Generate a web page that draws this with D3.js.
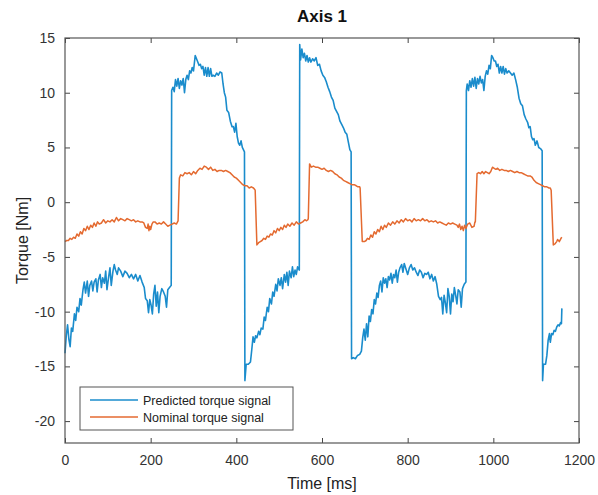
<html>
<head>
    <meta charset="utf-8">
    <title>Axis 1</title>
    <style>
        body { margin: 0; background: #ffffff; }
        text { font-family: "Liberation Sans", Arial, sans-serif; }
    </style>
</head>
<body>
    <script src="https://cdn.jsdelivr.net/npm/d3@7/dist/d3.min.js"></script>
    <script type="text/javascript">
        // predicted torque (blue) : time [ms], torque [Nm]
        var predT = [0, 3, 6, 9, 12, 15, 18, 22, 25, 28, 32, 35, 38, 42, 45, 48, 52, 55, 58, 62, 65, 68, 72, 75, 78, 82, 85, 88, 92, 95, 98, 102, 105, 108, 112, 115, 118, 122, 125, 130, 135, 140, 145, 150, 155, 160, 165, 170, 175, 180, 185, 188, 192, 195, 198, 201, 204, 207, 210, 213, 216, 219, 222, 226, 230, 234, 237, 240, 244, 248,
            249, 252, 255, 258, 261, 264, 267, 270, 273, 276, 279, 282, 285, 288, 291, 294, 297, 300, 304, 307, 310, 313, 316, 319, 322, 325, 328, 331, 334, 337, 340, 343, 346, 350, 354, 358, 362, 366, 369, 372, 375, 378, 382, 386, 390, 393, 396, 399, 402, 405, 408, 411, 414, 419,
            420, 423, 428, 433, 436, 439, 442, 445, 448, 452, 455, 458, 462, 465, 468, 472, 475, 478, 482, 485, 488, 492, 495, 498, 502, 505, 508, 512, 515, 518, 521, 524, 528, 531, 534, 537, 540, 543, 547,
            548, 550, 553, 556, 559, 562, 565, 568, 571, 574, 578, 582, 586, 590, 594, 598, 602, 606, 610, 614, 618, 622, 626, 630, 634, 638, 642, 646, 650, 654, 658, 662, 665, 668,
            669, 673, 678, 683, 688, 692, 695, 698, 701, 704, 707, 710, 713, 716, 719, 722, 725, 728, 731, 734, 737, 740, 743, 746, 749, 752, 755, 758, 761, 764, 767, 770, 773, 776, 779, 782, 786, 789, 792, 796, 800, 804, 808, 812, 816, 820, 824, 828, 832, 836, 840, 844, 848, 852, 856, 860, 864, 868, 872, 876, 879, 882, 885, 888, 891, 894, 897, 900, 903, 906, 909, 912, 915, 918, 922, 925, 928, 932, 936,
            937, 939, 942, 945, 948, 951, 954, 957, 960, 963, 966, 969, 972, 975, 978, 981, 984, 987, 990, 993, 996, 999, 1002, 1005, 1008, 1011, 1014, 1017, 1020, 1023, 1026, 1029, 1032, 1036, 1040, 1044, 1048, 1052, 1056, 1060, 1064, 1068, 1072, 1076, 1080, 1083, 1086, 1089, 1092, 1095, 1098, 1102, 1106, 1110, 1114,
            1115, 1117, 1122, 1125, 1128, 1131, 1133, 1136, 1139, 1142, 1145, 1148, 1151, 1154, 1157, 1159, 1160];
        var predV = [-13.8, -12.2, -11.2, -12.5, -13.2, -11.5, -11.8, -10.2, -10.8, -9.6, -10.0, -8.8, -9.4, -8.0, -7.3, -8.3, -7.2, -8.6, -7.6, -7.2, -8.1, -7.3, -7.0, -8.2, -7.1, -6.6, -7.8, -6.9, -7.4, -6.3, -8.0, -6.8, -6.0, -7.6, -6.3, -5.7, -6.2, -6.6, -6.0, -6.3, -6.8, -6.3, -6.5, -6.9, -6.6, -7.0, -6.6, -7.2, -6.7, -7.3, -7.8, -8.8, -9.0, -10.1, -8.9, -9.4, -10.2, -8.4, -7.6, -9.5, -8.2, -10.1, -8.6, -7.9, -8.2, -8.6, -9.6, -8.0, -7.8, -7.6,
            10.2, 10.5, 10.1, 11.2, 10.6, 11.3, 10.4, 11.1, 10.7, 11.3, 10.0, 11.2, 11.6, 11.2, 12.0, 11.8, 12.3, 12.0, 13.4, 13.1, 12.8, 12.5, 12.6, 12.2, 12.4, 11.6, 12.3, 11.5, 12.3, 11.5, 12.2, 11.5, 11.6, 11.5, 11.8, 11.6, 11.9, 11.8, 10.8, 10.0, 9.6, 8.4, 8.2, 7.4, 6.9, 6.9, 6.4, 7.2, 6.0, 5.4, 5.2, 5.6, 5.0, 4.6,
            -16.3, -14.8, -14.8, -14.6, -13.5, -12.3, -12.8, -12.2, -12.4, -11.8, -12.1, -11.5, -11.6, -10.5, -10.8, -9.6, -10.0, -8.8, -9.3, -8.2, -8.6, -7.5, -8.1, -7.0, -7.6, -6.9, -7.9, -6.6, -7.3, -6.4, -7.6, -6.3, -6.9, -5.9, -6.8, -6.2, -6.6, -5.9, -6.2,
            14.4, 13.0, 14.0, 13.2, 13.6, 12.9, 13.4, 12.8, 13.2, 12.8, 13.1, 12.9, 13.2, 12.5, 12.6, 12.0, 11.6, 11.4, 11.0, 10.5, 10.1, 9.6, 9.3, 8.6, 8.3, 8.0, 7.4, 7.1, 6.8, 6.4, 6.2, 5.4, 4.8, 4.6,
            -14.3, -14.2, -14.3, -14.0, -13.9, -13.6, -12.4, -11.6, -12.6, -11.1, -12.3, -10.4, -10.9, -9.8, -10.2, -8.9, -9.3, -8.3, -8.7, -7.6, -7.2, -8.2, -6.9, -7.4, -7.0, -7.8, -6.8, -7.1, -6.5, -7.4, -6.6, -6.9, -6.2, -7.3, -6.4, -6.0, -5.7, -6.4, -5.6, -6.1, -6.6, -6.0, -5.7, -6.2, -6.0, -6.4, -6.7, -6.2, -6.4, -6.9, -6.5, -6.6, -6.4, -7.0, -6.6, -7.2, -6.8, -7.5, -8.6, -8.9, -8.7, -10.2, -8.5, -9.2, -10.1, -7.9, -8.6, -10.2, -8.4, -9.1, -7.8, -8.5, -9.3, -8.0, -8.2, -9.6, -7.9, -7.5, -7.3,
            10.2, 10.8, 10.2, 11.1, 10.5, 11.3, 10.6, 11.4, 10.4, 11.3, 10.8, 11.5, 10.9, 11.2, 10.2, 11.5, 12.0, 11.7, 12.5, 12.2, 13.4, 13.2, 12.9, 12.9, 12.4, 12.6, 11.8, 12.4, 11.8, 12.4, 11.7, 12.2, 11.8, 12.0, 11.8, 11.6, 11.8, 11.2, 10.5, 9.5, 9.0, 8.8, 8.0, 7.6, 7.3, 6.8, 6.9, 6.0, 5.7, 5.8, 5.2, 5.6, 5.0, 4.9, 4.7,
            -16.3, -14.8, -14.8, -14.0, -12.6, -12.0, -12.8, -12.0, -12.1, -11.7, -11.8, -11.4, -11.2, -11.3, -11.0, -11.1, -9.7];

        // nominal torque (orange)
        var nomT = [0, 4, 8, 12, 16, 20, 24, 28, 32, 36, 40, 44, 48, 52, 56, 60, 64, 68, 72, 76, 80, 85, 90, 95, 100, 105, 110, 115, 120, 125, 130, 135, 140, 145, 150, 155, 160, 165, 170, 175, 180, 184, 188, 192, 194, 196, 198, 200, 203, 206, 210, 215, 220, 225, 230, 235, 240, 245, 250, 255, 260, 264,
            267, 270, 275, 280, 285, 290, 295, 300, 305, 310, 315, 320, 325, 330, 335, 340, 345, 350, 355, 360, 365, 370, 375, 380, 385, 390, 395, 400, 405, 410, 415, 420, 425, 430, 435, 440, 442,
            444, 448, 452, 456, 460, 464, 468, 472, 476, 480, 484, 488, 492, 496, 500, 504, 508, 512, 516, 520, 525, 530, 535, 540, 545, 550, 555, 560, 564, 567,
            568, 571, 575, 580, 585, 590, 595, 600, 605, 610, 615, 620, 625, 630, 635, 640, 645, 650, 655, 660, 665, 670, 675, 680, 684, 688,
            689, 694, 699, 703, 706, 710, 714, 718, 722, 726, 730, 734, 738, 742, 746, 750, 755, 760, 765, 770, 775, 780, 785, 790, 795, 800, 805, 810, 815, 820, 825, 830, 835, 840, 845, 850, 855, 860, 865, 870, 875, 880, 885, 890, 895, 900, 905, 910, 915, 918, 921, 924, 927, 930, 933, 936, 940, 945, 950, 955, 957,
            958, 962, 966, 970, 974, 978, 982, 986, 990, 994, 998, 1002, 1006, 1010, 1015, 1020, 1025, 1030, 1035, 1040, 1045, 1050, 1055, 1060, 1065, 1070, 1075, 1080, 1086, 1090, 1095, 1100, 1105, 1110, 1115, 1120, 1125, 1130, 1133,
            1135, 1140, 1144, 1148, 1150, 1154, 1158, 1160];
        var nomV = [-3.6, -3.5, -3.5, -3.3, -3.4, -3.2, -3.3, -2.9, -3.1, -2.7, -2.9, -2.4, -2.6, -2.2, -2.5, -2.1, -2.3, -1.9, -2.2, -1.8, -2.0, -1.9, -1.6, -1.9, -1.7, -1.8, -1.6, -1.8, -1.4, -1.7, -1.5, -1.6, -1.7, -1.5, -1.6, -1.7, -1.6, -1.8, -1.7, -1.8, -1.8, -1.9, -2.3, -2.4, -2.0, -2.6, -2.2, -2.5, -2.0, -1.8, -1.8, -2.0, -1.9, -2.0, -1.8, -2.0, -2.2, -2.1, -2.0, -1.9, -2.0, -1.7,
            2.2, 2.5, 2.4, 2.7, 2.6, 2.7, 2.5, 2.8, 2.6, 2.9, 3.1, 3.0, 3.3, 3.2, 3.0, 3.2, 2.9, 3.0, 2.8, 2.9, 2.9, 2.8, 2.9, 2.8, 2.7, 2.5, 2.3, 2.2, 2.0, 1.8, 1.6, 1.5, 1.5, 1.3, 1.4, 1.3, 1.2, 1.1,
            -3.9, -3.7, -3.6, -3.5, -3.3, -3.4, -3.1, -3.2, -2.9, -3.0, -2.6, -2.8, -2.4, -2.6, -2.3, -2.5, -2.1, -2.3, -2.0, -2.2, -1.9, -2.1, -1.8, -2.0, -1.9, -1.8, -1.6, -1.7, -1.6, -1.5,
            3.5, 3.2, 3.3, 3.2, 3.2, 3.1, 3.0, 3.1, 2.9, 2.8, 2.9, 2.8, 2.6, 2.5, 2.3, 2.2, 2.0, 1.9, 1.8, 1.7, 1.6, 1.6, 1.5, 1.4, 1.4, 1.3,
            -3.6, -3.6, -3.5, -3.3, -3.4, -3.0, -3.2, -2.7, -2.9, -2.5, -2.7, -2.2, -2.5, -2.1, -2.3, -1.9, -2.1, -1.8, -2.0, -1.7, -1.9, -1.6, -1.8, -1.5, -1.7, -1.6, -1.8, -1.5, -1.7, -1.6, -1.7, -1.5, -1.7, -1.6, -1.8, -1.7, -1.8, -1.7, -1.9, -1.8, -1.9, -2.0, -2.1, -1.9, -2.0, -1.9, -2.0, -2.1, -2.3, -2.0, -2.5, -2.2, -2.6, -2.1, -2.4, -2.0, -1.9, -2.3, -2.2, -1.8, -1.8,
            2.6, 2.7, 2.6, 2.8, 2.6, 2.8, 2.7, 2.6, 2.8, 3.2, 3.1, 3.0, 3.1, 2.9, 3.0, 2.9, 2.9, 2.8, 2.9, 2.8, 2.7, 2.8, 2.7, 2.7, 2.6, 2.5, 2.4, 2.4, 2.3, 2.0, 1.8, 1.7, 1.6, 1.5, 1.4, 1.4, 1.3, 1.3, 1.1,
            -3.9, -3.8, -3.6, -3.4, -3.6, -3.3, -3.2, -3.0];

        var xTicks = [0, 200, 400, 600, 800, 1000, 1200];
        var yTicks = [-20, -15, -10, -5, 0, 5, 10, 15];
        var seriesNames = ["Predicted torque signal", "Nominal torque signal"];
        var seriesColors = ["#1a8ccc", "#e46a30"];

        var width = 598, height = 495;
        var margin = { top: 38, right: 19, bottom: 52, left: 65 };
        var w = width - margin.left - margin.right;
        var h = height - margin.top - margin.bottom;

        var svg = d3.select("body")
            .append("svg")
            .attr("width", width)
            .attr("height", height);

        var x = d3.scaleLinear().domain([0, 1200]).range([0, w]);
        var y = d3.scaleLinear().domain([-22, 15]).range([h, 0]);

        // plain hyphen minus like MATLAB, no thousands comma
        var fmt = function (d) { return String(d); };

        var g = svg.append("g")
            .attr("transform", "translate(" + margin.left + "," + margin.top + ")");

        g.append("rect")
            .attr("width", w)
            .attr("height", h)
            .attr("fill", "#fff");

        // axes, MATLAB style ticks pointing inward on all sides
        function styleAxis(sel) {
            sel.select(".domain").remove();
            sel.selectAll(".tick line").attr("stroke", "#444");
            sel.selectAll(".tick text")
                .attr("fill", "#333")
                .style("font-size", "14px");
        }

        g.append("g")
            .attr("transform", "translate(0," + h + ")")
            .call(d3.axisBottom(x).tickValues(xTicks).tickSize(-5).tickPadding(12).tickFormat(fmt))
            .call(styleAxis);
        g.append("g")
            .call(d3.axisTop(x).tickValues(xTicks).tickSize(-5).tickFormat(""))
            .call(styleAxis);
        g.append("g")
            .call(d3.axisLeft(y).tickValues(yTicks).tickSize(-5).tickPadding(10).tickFormat(fmt))
            .call(styleAxis);
        g.append("g")
            .attr("transform", "translate(" + w + ",0)")
            .call(d3.axisRight(y).tickValues(yTicks).tickSize(-5).tickFormat(""))
            .call(styleAxis);

        var line = d3.line()
            .x(function (d) { return x(d[0]); })
            .y(function (d) { return y(d[1]); });

        var predData = predT.map(function (t, i) { return [t, predV[i]]; });
        var nomData = nomT.map(function (t, i) { return [t, nomV[i]]; });

        g.append("path")
            .datum(predData)
            .attr("d", line)
            .attr("fill", "none")
            .attr("stroke", seriesColors[0])
            .attr("stroke-width", 1.6)
            .attr("stroke-linejoin", "round");

        g.append("path")
            .datum(nomData)
            .attr("d", line)
            .attr("fill", "none")
            .attr("stroke", seriesColors[1])
            .attr("stroke-width", 1.5)
            .attr("stroke-linejoin", "round");

        // frame
        g.append("rect")
            .attr("width", w)
            .attr("height", h)
            .attr("fill", "none")
            .attr("stroke", "#555")
            .attr("stroke-width", 1.2);

        // legend
        var lg = g.append("g").attr("transform", "translate(15," + (h - 56) + ")");
        lg.append("rect")
            .attr("width", 213)
            .attr("height", 43)
            .attr("fill", "#fff")
            .attr("stroke", "#555")
            .attr("stroke-width", 1);
        seriesNames.forEach(function (name, i) {
            var ly = 13 + i * 17;
            lg.append("line")
                .attr("x1", 10).attr("x2", 58)
                .attr("y1", ly).attr("y2", ly)
                .attr("stroke", seriesColors[i])
                .attr("stroke-width", 1.6);
            lg.append("text")
                .attr("x", 63)
                .attr("y", ly + 4.5)
                .attr("fill", "#222")
                .style("font-size", "12.5px")
                .text(name);
        });

        // title and labels
        svg.append("text")
            .attr("x", margin.left + w / 2)
            .attr("y", 22)
            .attr("text-anchor", "middle")
            .style("font-size", "17px")
            .style("font-weight", "bold")
            .attr("fill", "#111")
            .text("Axis 1");

        svg.append("text")
            .attr("x", margin.left + w / 2)
            .attr("y", 489)
            .attr("text-anchor", "middle")
            .style("font-size", "16px")
            .attr("fill", "#222")
            .text("Time [ms]");

        svg.append("text")
            .attr("transform", "translate(28," + (margin.top + h / 2) + ") rotate(-90)")
            .attr("text-anchor", "middle")
            .style("font-size", "16px")
            .attr("fill", "#222")
            .text("Torque [Nm]");
    </script>
</body>
</html>
